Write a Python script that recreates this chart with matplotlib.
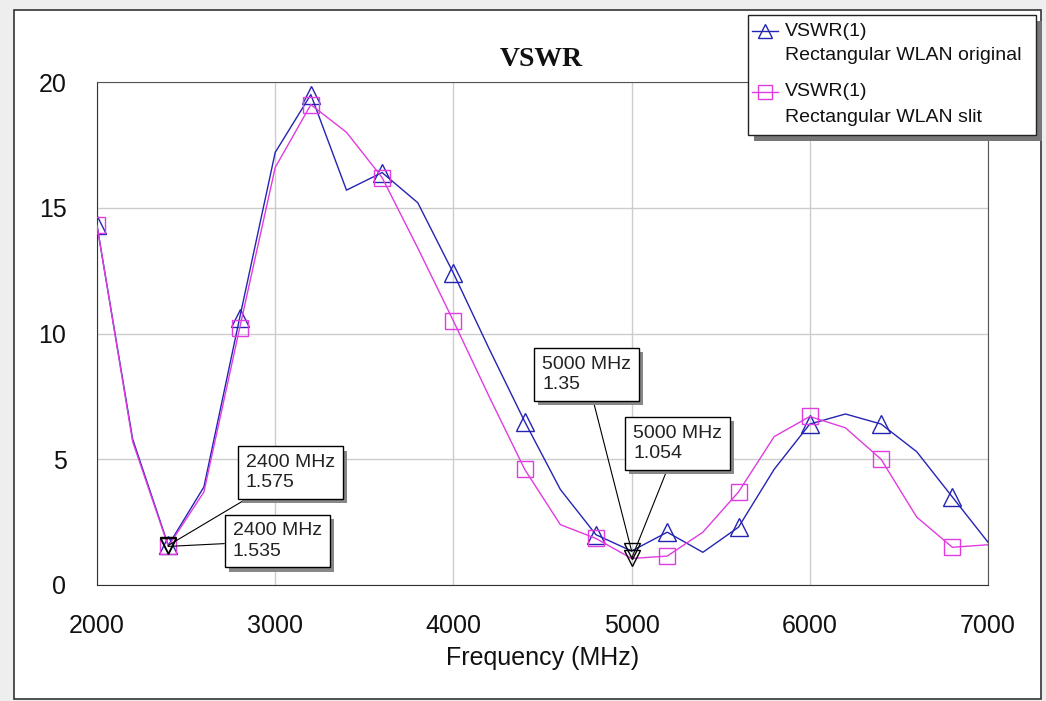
import matplotlib
matplotlib.use("Agg")
import matplotlib.pyplot as plt
import matplotlib.patheffects as pe
from matplotlib.patches import Rectangle
from matplotlib.lines import Line2D

plt.rcParams['font.family'] = ['Liberation Sans', 'DejaVu Sans']

freq = [2000, 2200, 2400, 2600, 2800, 3000, 3200, 3400, 3600, 3800, 4000, 4200,
        4400, 4600, 4800, 5000, 5200, 5400, 5600, 5800, 6000, 6200, 6400, 6600,
        6800, 7000]
vswr_original = [14.3, 5.8, 1.575, 3.9, 10.6, 17.2, 19.5, 15.7, 16.4, 15.2, 12.4, 9.4,
                 6.5, 3.8, 2.0, 1.35, 2.1, 1.3, 2.3, 4.6, 6.4, 6.8, 6.4, 5.3,
                 3.5, 1.7]
vswr_slit = [14.3, 5.7, 1.535, 3.7, 10.2, 16.6, 19.1, 18.0, 16.2, 13.4, 10.5, 7.5,
             4.6, 2.4, 1.85, 1.054, 1.15, 2.1, 3.7, 5.9, 6.7, 6.25, 5.0, 2.7,
             1.5, 1.6]

markers_freq = [(2400, 1.575), (2400, 1.535), (5000, 1.35), (5000, 1.054)]
marker_text_pos = [(3084, 4.46), (3011, 1.75), (4747, 8.37), (5258, 5.62)]

blue = '#2424b4'
magenta = '#e03ce0'

fig = plt.figure(figsize=(10.46, 7.01), dpi=100)
fig.patch.set_facecolor('#eeeeee')

# white panel with dark frame
panel = Rectangle((14 / 1046, 2 / 701), 1027 / 1046, 689 / 701, transform=fig.transFigure,
                  facecolor='white', edgecolor='#333333', linewidth=1.2, zorder=-5)
fig.patches.append(panel)

ax = fig.add_axes([97 / 1046, 116 / 701, 891 / 1046, 503 / 701])
ax.set_facecolor('white')

ax.plot(freq, vswr_original, color=blue, lw=1, marker='^', markevery=2, ms=13,
        mfc='none', mec=blue, mew=1, zorder=3)
ax.plot(freq, vswr_slit, color=magenta, lw=1, marker='s', markevery=2, ms=11.5,
        mfc='none', mec=magenta, mew=1, zorder=3)

for (fx, fy), (tx, ty) in zip(markers_freq, marker_text_pos):
    ax.plot(fx, fy, marker='v', ms=11, mfc='none', mec='black', mew=1, zorder=4)
    t = ax.annotate(f"{fx} MHz\n{fy}", xy=(fx, fy), xytext=(tx, ty),
                    ha='center', va='center', multialignment='left', fontsize=14,
                    color='#222222', linespacing=1.25,
                    bbox=dict(boxstyle='square,pad=0.4', fc='white', ec='black', lw=1),
                    arrowprops=dict(arrowstyle='-', color='black', lw=0.8,
                                    shrinkA=0, shrinkB=0),
                    zorder=5)
    t.get_bbox_patch().set_path_effects([
        pe.SimplePatchShadow(offset=(3, -3), shadow_rgbFace='#888888', alpha=1.0),
        pe.Normal()])

ax.set_xlim(2000, 7000)
ax.set_ylim(0, 20)
ax.set_xticks([2000, 3000, 4000, 5000, 6000, 7000])
ax.set_yticks([0, 5, 10, 15, 20])
ax.tick_params(length=0, labelsize=18, colors='#111111')
ax.tick_params(axis='x', pad=21)
ax.tick_params(axis='y', pad=22)
ax.grid(True, color='#cccccc', lw=1)
ax.set_axisbelow(True)
for side in ['left', 'bottom']:
    ax.spines[side].set_color('#333333')
for side in ['top', 'right']:
    ax.spines[side].set_color('#555555')

ax.set_xlabel('Frequency (MHz)', fontsize=18, labelpad=6, color='#111111')
fig.text(541 / 1046, 1 - 59 / 701, 'VSWR', ha='center', va='center', fontsize=20,
         fontweight='bold', family='Liberation Serif', color='#111111')

# legend box
lx0, lx1, ly0, ly1 = 748, 1036, 15, 135
W, H = 1046, 701
leg = Rectangle((lx0 / W, 1 - ly1 / H), (lx1 - lx0) / W, (ly1 - ly0) / H,
                transform=fig.transFigure, facecolor='white', edgecolor='#222222',
                lw=1, zorder=10)
leg.set_path_effects([pe.SimplePatchShadow(offset=(4, -4), shadow_rgbFace='#777777', alpha=1.0),
                      pe.Normal()])
fig.patches.append(leg)

entries = [(blue, '^', 'Rectangular WLAN original', 31),
           (magenta, 's', 'Rectangular WLAN slit', 92)]
for col, mk, name, yy in entries:
    fig.lines.append(Line2D([752 / W, 778 / W], [1 - yy / H, 1 - yy / H],
                            transform=fig.transFigure, color=col, lw=1, zorder=11))
    fig.lines.append(Line2D([765 / W], [1 - yy / H], transform=fig.transFigure,
                            marker=mk, ms=10, mfc='none', mec=col, mew=1, zorder=11))
    fig.text(785 / W, 1 - yy / H, 'VSWR(1)', fontsize=14, va='center', ha='left',
             color='#111111', zorder=12)
    fig.text(785 / W, 1 - (yy + 25) / H, name, fontsize=14, va='center', ha='left',
             color='#111111', zorder=12)

fig.savefig('out.png', dpi=100, facecolor=fig.get_facecolor())
